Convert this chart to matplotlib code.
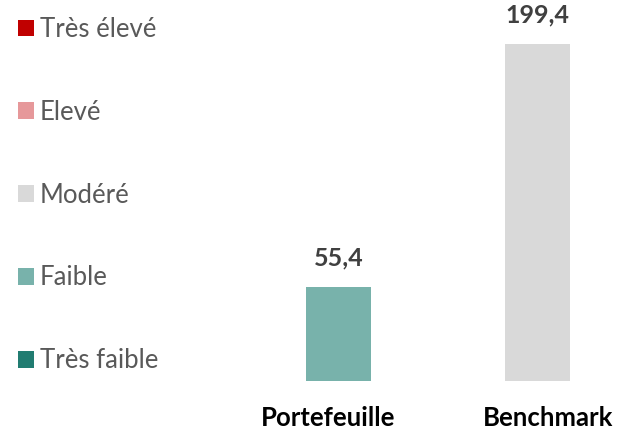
import matplotlib.pyplot as plt
from matplotlib.patches import Patch

plt.rcParams['font.family'] = ['Lato', 'DejaVu Sans']

# data
categories = ['Portefeuille', 'Benchmark']
values = [55.4, 199.4]
bar_colors = ['#78b2ab', '#d9d9d9']

legend_labels = ['Très élevé', 'Elevé', 'Modéré', 'Faible', 'Très faible']
legend_colors = ['#c00000', '#e6989a', '#d9d9d9', '#78b2ab', '#217c71']

W, H = 629, 430
fig = plt.figure(figsize=(W / 100, H / 100), dpi=100)

# axes in pixel terms: bars centred at 338.5px and 537.5px, base at y=381px
left_px, right_px = 200, 625
bottom_px, top_px = 381, 5
ax = fig.add_axes([left_px / W, (H - bottom_px) / H,
                   (right_px - left_px) / W, (bottom_px - top_px) / H])
step = 199.0
x = [0, 1]
ax.set_xlim(-(338.5 - left_px) / step, (right_px - 338.5) / step)
ax.set_ylim(0, (bottom_px - top_px) / 1.69)

ax.bar(x, values, width=65 / step, color=bar_colors)

for xi, v in zip(x, values):
    ax.annotate(f'{v:.1f}'.replace('.', ','), (xi, v), xytext=(0, 21),
                textcoords='offset points', ha='center', va='center',
                fontsize=18, fontweight='bold', color='#404040')

ax.set_xticks([-0.05, 1.053])
ax.set_xticklabels(categories, fontsize=18.5, fontweight='bold', color='black')
ax.tick_params(axis='x', length=0, pad=18)
ax.set_yticks([])
for s in ax.spines.values():
    s.set_visible(False)

handles = [Patch(facecolor=c, edgecolor='none') for c in legend_colors]
fig.legend(handles, legend_labels, loc='upper left',
           bbox_to_anchor=(18 / W, 1 - 17 / H), frameon=False,
           fontsize=18.5, labelcolor='#595959', labelspacing=2.25,
           handlelength=0.62, handleheight=0.62, handletextpad=0.22,
           borderpad=0, borderaxespad=0)

fig.savefig('out.png', dpi=100)
